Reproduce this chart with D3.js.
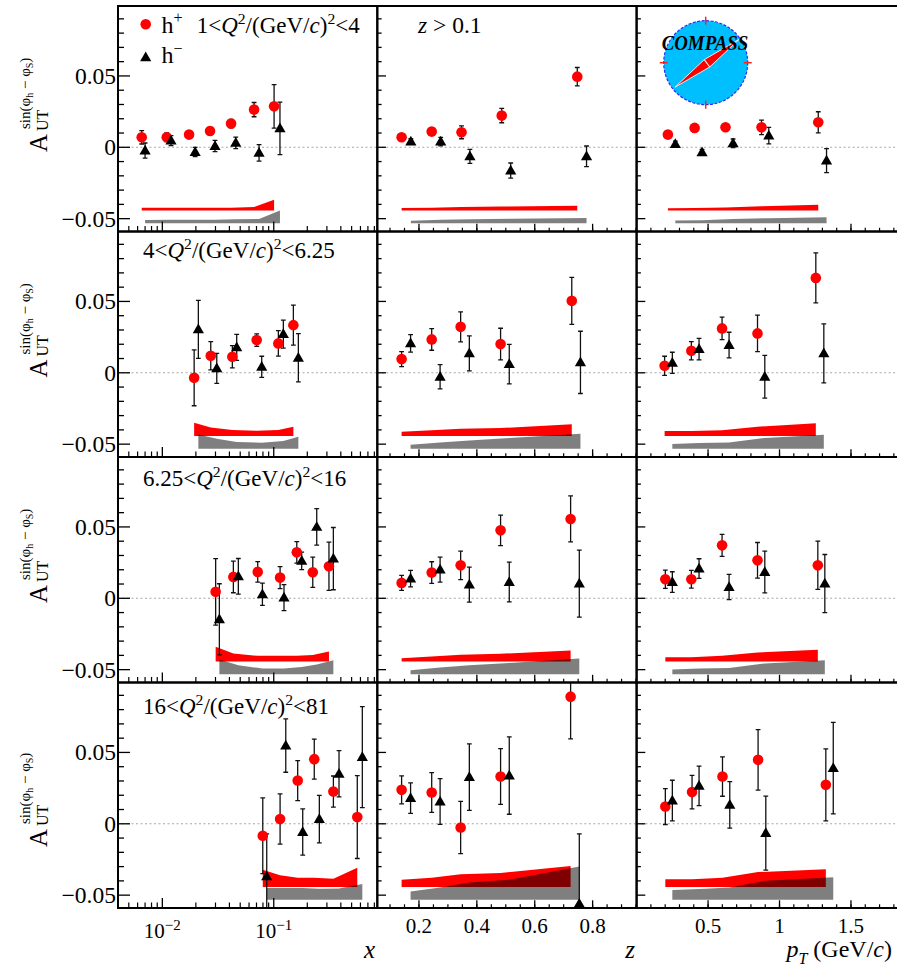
<!DOCTYPE html>
<html>
<head>
<meta charset="utf-8">
<script src="https://cdn.jsdelivr.net/npm/d3@7"></script>
<style>
  body { margin: 0; background: #fff; }
  svg { display: block; }
  text { font-family: "Liberation Serif", "Times New Roman", serif; fill: #000; }
</style>
</head>
<body>
<svg id="chart" width="897" height="970"></svg>
<script>
// ---------------- data ----------------
// Q^2 bin edges, (GeV/c)^2
const Q2_EDGES = ["1", "4", "6.25", "16", "81"];
const Y_TICK_LABELS = [-0.05, 0, 0.05];
const X_TICK_LABELS = [0.01, 0.1];
const Z_TICK_LABELS = [0.2, 0.4, 0.6, 0.8];
const PT_TICK_LABELS = [0.5, 1, 1.5];
// baselines of the systematic-uncertainty bands
const SYS_BASE_POS = -0.0443;
const SYS_BASE_NEG = -0.0532;

// each point: [bin mean, A_UT, stat. error, syst. error]
// 1 < Q^2 < 4
const q1_x_pos = [[0.00653,0.0070,0.0047,0.0020],[0.01095,0.0070,0.0030,0.0020],[0.01738,0.0089,0.0022,0.0020],[0.0268,0.0114,0.0025,0.0020],[0.0414,0.0166,0.0030,0.0020],[0.0666,0.0264,0.0050,0.0025],[0.1007,0.0287,0.0152,0.0075]];
const q1_x_neg = [[0.0070,-0.0023,0.0053,0.0022],[0.01197,0.0047,0.0035,0.0025],[0.0197,-0.0033,0.0033,0.0025],[0.0297,0.0009,0.0040,0.0025],[0.0456,0.0031,0.0040,0.0027],[0.0738,-0.0039,0.0058,0.0030],[0.1137,0.0133,0.0184,0.0089]];
const q1_z_pos = [[0.140,0.0070,0.0020,0.0018],[0.244,0.0110,0.0022,0.0020],[0.347,0.0105,0.0045,0.0024],[0.486,0.0222,0.0050,0.0028],[0.747,0.0495,0.0064,0.0033]];
const q1_z_neg = [[0.172,0.0040,0.0020,0.0018],[0.275,0.0040,0.0030,0.0024],[0.376,-0.0063,0.0049,0.0028],[0.517,-0.0163,0.0053,0.0032],[0.779,-0.0063,0.0072,0.0037]];
const q1_pt_pos = [[0.219,0.0089,0.0020,0.0016],[0.406,0.0136,0.0020,0.0018],[0.622,0.0140,0.0020,0.0022],[0.874,0.0140,0.0051,0.0030],[1.271,0.0175,0.0074,0.0040]];
const q1_pt_neg = [[0.271,0.0023,0.0020,0.0019],[0.458,-0.0035,0.0020,0.0020],[0.675,0.0028,0.0030,0.0030],[0.925,0.0082,0.0058,0.0035],[1.329,-0.0093,0.0084,0.0042]];
// 4 < Q^2 < 6.25
const q2_x_pos = [[0.0193,-0.0035,0.0196,0.0093],[0.0272,0.0119,0.0099,0.0060],[0.0425,0.0112,0.0078,0.0042],[0.0703,0.0229,0.0044,0.0037],[0.110,0.0206,0.0089,0.0042],[0.150,0.0334,0.0140,0.0065]];
const q2_x_neg = [[0.02105,0.0304,0.0203,0.0100],[0.0308,0.0031,0.0105,0.0070],[0.0465,0.0178,0.0091,0.0047],[0.0780,0.0042,0.0074,0.0042],[0.1219,0.0271,0.0098,0.0054],[0.1663,0.0105,0.0169,0.0084]];
const q2_z_pos = [[0.140,0.0096,0.0053,0.0030],[0.244,0.0234,0.0076,0.0040],[0.344,0.0322,0.0105,0.0051],[0.482,0.0201,0.0111,0.0056],[0.728,0.0504,0.0165,0.0082]];
const q2_z_neg = [[0.171,0.0206,0.0061,0.0028],[0.273,-0.0028,0.0085,0.0044],[0.374,0.0136,0.0123,0.0058],[0.512,0.0061,0.0138,0.0075],[0.758,0.0073,0.0218,0.0105]];
const q2_pt_pos = [[0.196,0.0049,0.0067,0.0035],[0.383,0.0154,0.0064,0.0035],[0.598,0.0311,0.0079,0.0040],[0.846,0.0276,0.0128,0.0065],[1.254,0.0665,0.0175,0.0089]];
const q2_pt_neg = [[0.250,0.0070,0.0074,0.0033],[0.437,0.0166,0.0075,0.0040],[0.647,0.0194,0.0090,0.0044],[0.897,-0.0028,0.0150,0.0075],[1.310,0.0136,0.0207,0.0098]];
// 6.25 < Q^2 < 16
const q3_x_pos = [[0.0301,0.0045,0.0233,0.0103],[0.0434,0.0150,0.0111,0.0056],[0.0718,0.0185,0.0072,0.0040],[0.114,0.0145,0.0077,0.0040],[0.161,0.0322,0.0075,0.0040],[0.224,0.0182,0.0106,0.0045],[0.313,0.0224,0.0169,0.0070]];
const q3_x_neg = [[0.0325,-0.0147,0.0249,0.0103],[0.0481,0.0154,0.0125,0.0063],[0.0791,0.0028,0.0078,0.0040],[0.1236,0.0005,0.0091,0.0040],[0.1782,0.0262,0.0061,0.0051],[0.2431,0.0500,0.0128,0.0068],[0.3428,0.0278,0.0218,0.0098]];
const q3_z_pos = [[0.140,0.0108,0.0053,0.0023],[0.244,0.0180,0.0076,0.0035],[0.344,0.0231,0.0100,0.0047],[0.482,0.0476,0.0107,0.0054],[0.724,0.0556,0.0161,0.0077]];
const q3_z_neg = [[0.171,0.0138,0.0058,0.0028],[0.273,0.0201,0.0088,0.0047],[0.374,0.0096,0.0123,0.0063],[0.512,0.0114,0.0139,0.0079],[0.754,0.0103,0.0235,0.0110]];
const q3_pt_pos = [[0.201,0.0133,0.0064,0.0030],[0.383,0.0133,0.0062,0.0030],[0.598,0.0371,0.0077,0.0040],[0.846,0.0266,0.0125,0.0063],[1.268,0.0231,0.0169,0.0082]];
const q3_pt_neg = [[0.250,0.0114,0.0072,0.0033],[0.437,0.0208,0.0069,0.0040],[0.647,0.0079,0.0088,0.0044],[0.897,0.0184,0.0146,0.0075],[1.317,0.0103,0.0204,0.0098]];
// 16 < Q^2 < 81
const q4_x_pos = [[0.0797,-0.0084,0.0265,0.0121],[0.114,0.0033,0.0176,0.0082],[0.164,0.0303,0.0140,0.0065],[0.231,0.0453,0.0140,0.0065],[0.343,0.0226,0.0109,0.0058],[0.562,0.0047,0.0290,0.0135]];
const q4_x_neg = [[0.0865,-0.0369,0.0299,0.0082],[0.1282,0.0548,0.0187,0.0082],[0.182,-0.0058,0.0162,0.0082],[0.2565,0.0033,0.0166,0.0077],[0.3853,0.0350,0.0162,0.0078],[0.6237,0.0467,0.0354,0.0110]];
const q4_z_pos = [[0.140,0.0238,0.0098,0.0051],[0.244,0.0219,0.0139,0.0065],[0.344,-0.0026,0.0183,0.0089],[0.482,0.0331,0.0195,0.0098],[0.724,0.0891,0.0296,0.0147]];
const q4_z_neg = [[0.171,0.0180,0.0107,0.0058],[0.273,0.0156,0.0160,0.0086],[0.374,0.0327,0.0233,0.0121],[0.512,0.0338,0.0271,0.0140],[0.754,-0.0560,0.0490,0.0233]];
const q4_pt_pos = [[0.201,0.0121,0.0126,0.0054],[0.388,0.0222,0.0117,0.0054],[0.601,0.0331,0.0138,0.0065],[0.850,0.0448,0.0212,0.0105],[1.324,0.0273,0.0252,0.0124]];
const q4_pt_neg = [[0.250,0.0163,0.0142,0.0068],[0.437,0.0266,0.0138,0.0075],[0.652,0.0133,0.0163,0.0086],[0.904,-0.0065,0.0259,0.0133],[1.376,0.0390,0.0321,0.0157]];

const panels = [
  [[q1_x_pos, q1_x_neg], [q1_z_pos, q1_z_neg], [q1_pt_pos, q1_pt_neg]],
  [[q2_x_pos, q2_x_neg], [q2_z_pos, q2_z_neg], [q2_pt_pos, q2_pt_neg]],
  [[q3_x_pos, q3_x_neg], [q3_z_pos, q3_z_neg], [q3_pt_pos, q3_pt_neg]],
  [[q4_x_pos, q4_x_neg], [q4_z_pos, q4_z_neg], [q4_pt_pos, q4_pt_neg]]
];

// ---------------- layout ----------------
const COL_L = [118, 377.3, 636.6];
const COL_R = [377.3, 636.6, 899];
const TOP = 6, ROW_H = 225.5;
const Y_DOMAIN = [-0.059, 0.099];
const RED = "#ff0000";

const svg = d3.select("#chart");
const defs = svg.append("defs");

const xScales = [
  d3.scaleLog().domain([0.004, 0.85]).range([COL_L[0], COL_R[0]]),
  d3.scaleLinear().domain([0.056, 0.952]).range([COL_L[1], COL_R[1]]),
  d3.scaleLinear().domain([0, 1.836]).range([COL_L[2], COL_R[2]])
];

// text made of plain / italic / raised / lowered pieces
function richText(parent, x, y, size, segs, anchor) {
  const t = parent.append("text").attr("x", x).attr("y", y)
    .attr("font-size", size).attr("text-anchor", anchor || "start");
  let shift = 0;
  segs.forEach(s => {
    const target = s.sup ? -size * 0.4 : (s.sub ? size * 0.28 : 0);
    const ts = t.append("tspan").attr("dy", target - shift).text(s.t);
    shift = target;
    if (s.i) ts.attr("font-style", "italic");
    if (s.sup || s.sub) ts.attr("font-size", s.fs || size * 0.68);
  });
  return t;
}

function triangle(cx, cy) {
  return `M${cx - 5.6},${cy + 3.9}L${cx + 5.6},${cy + 3.9}L${cx},${cy - 5.8}Z`;
}

function errPath(x, y1, y2) {
  const w = 2.4;
  return `M${x},${y1}V${y2}M${x - w},${y1}H${x + w}M${x - w},${y2}H${x + w}`;
}

for (let r = 0; r < 4; r++) {
  const top = TOP + r * ROW_H, bot = top + ROW_H;
  const y = d3.scaleLinear().domain(Y_DOMAIN).range([bot, top]);

  for (let c = 0; c < 3; c++) {
    const x = xScales[c];
    const [pos, neg] = panels[r][c];
    const L = COL_L[c], R = COL_R[c];
    const id = `clip-${r}-${c}`;
    defs.append("clipPath").attr("id", id)
      .append("rect").attr("x", L).attr("y", top).attr("width", R - L).attr("height", ROW_H);

    const g = svg.append("g");
    const inner = g.append("g").attr("clip-path", `url(#${id})`);

    // systematic bands
    const band = base => d3.area()
      .x(d => x(d[0])).y0(y(base)).y1(d => y(base + d[3]));
    inner.append("path").datum(pos).attr("d", band(SYS_BASE_POS)).attr("fill", RED);
    inner.append("path").datum(neg).attr("d", band(SYS_BASE_NEG))
      .attr("fill", "#000").attr("fill-opacity", 0.5);

    // zero line
    inner.append("line").attr("x1", L).attr("x2", R).attr("y1", y(0)).attr("y2", y(0))
      .attr("stroke", "#a8a8a8").attr("stroke-width", 1.1).attr("stroke-dasharray", "2,2.5");

    // statistical error bars
    [pos, neg].forEach(set => {
      inner.append("g").selectAll("path").data(set).join("path")
        .attr("d", d => errPath(x(d[0]), y(d[1] - d[2]), y(d[1] + d[2])))
        .attr("stroke", "#111").attr("stroke-width", 1.3).attr("fill", "none");
    });

    // markers
    inner.append("g").selectAll("circle").data(pos).join("circle")
      .attr("cx", d => x(d[0])).attr("cy", d => y(d[1])).attr("r", 5.3).attr("fill", RED);
    inner.append("g").selectAll("path").data(neg).join("path")
      .attr("d", d => triangle(x(d[0]), y(d[1]))).attr("fill", "#000");

    // y ticks
    const yLong = c === 0 ? 12 : 8.7, yShort = c === 0 ? 6 : 4.3;
    const yt = [];
    for (let i = -5; i <= 9; i++) yt.push(i);
    g.append("g").selectAll("line").data(yt).join("line")
      .attr("x1", L).attr("x2", i => L + (i % 5 === 0 ? yLong : yShort))
      .attr("y1", i => y(i / 100)).attr("y2", i => y(i / 100))
      .attr("stroke", "#000").attr("stroke-width", 1.3);

    // x ticks
    let major = [], minor = [];
    if (c === 0) {
      major = X_TICK_LABELS;
      [0.001, 0.01, 0.1].forEach(dec => {
        for (let k = 2; k <= 9; k++) {
          const v = k * dec;
          if (v > 0.0041 && v < 0.85) minor.push(v);
        }
      });
    } else if (c === 1) {
      major = Z_TICK_LABELS;
      for (let k = 2; k <= 19; k++) minor.push(k * 0.05);
    } else {
      major = PT_TICK_LABELS;
      for (let k = 1; k <= 18; k++) minor.push(k * 0.1);
    }
    const xLong = c === 0 ? 10 : 7.7, xShort = c === 0 ? 5.5 : 3.7;
    g.append("g").selectAll("line").data(minor).join("line")
      .attr("x1", d => x(d)).attr("x2", d => x(d)).attr("y1", bot).attr("y2", bot - xShort)
      .attr("stroke", "#000").attr("stroke-width", 1.2);
    g.append("g").selectAll("line").data(major).join("line")
      .attr("x1", d => x(d)).attr("x2", d => x(d)).attr("y1", bot).attr("y2", bot - xLong)
      .attr("stroke", "#000").attr("stroke-width", 1.3);

    // frame
    g.append("rect").attr("x", L).attr("y", top).attr("width", R - L).attr("height", ROW_H)
      .attr("fill", "none").attr("stroke", "#000").attr("stroke-width", 2);

    // y tick labels
    if (c === 0) {
      g.append("g").selectAll("text").data(Y_TICK_LABELS).join("text")
        .attr("x", 116).attr("y", d => y(d)).attr("dy", "0.34em")
        .attr("text-anchor", "end").attr("font-size", 23.5)
        .text(d => d === 0 ? "0" : (d < 0 ? "\u2212" : "") + Math.abs(d).toFixed(2));
    }

    // x tick labels on the bottom row
    if (r === 3) {
      if (c === 0) {
        X_TICK_LABELS.forEach(v => {
          richText(g, x(v), 938, 21, [{ t: "10" }, { t: "\u2212" + Math.round(-Math.log10(v)), sup: true, fs: 15 }], "middle");
        });
      } else {
        const labs = c === 1 ? Z_TICK_LABELS : PT_TICK_LABELS;
        g.append("g").selectAll("text").data(labs).join("text")
          .attr("x", d => x(d)).attr("y", 933).attr("text-anchor", "middle").attr("font-size", 21)
          .text(d => String(d));
      }
    }
  }

  // y-axis title for this row
  const tBottom = r < 3 ? top + 146 : 847;
  const tg = svg.append("g").attr("transform", `translate(47,${tBottom}) rotate(-90)`);
  tg.append("text").attr("x", 0).attr("y", 0).attr("font-size", 25).text("A");
  tg.append("text").attr("x", 21).attr("y", 1).attr("font-size", 16).text("UT");
  const sup = tg.append("text").attr("x", 23).attr("y", -17).attr("font-size", 15);
  sup.append("tspan").text("sin(\u03c6");
  sup.append("tspan").attr("dy", 3).attr("font-size", 10).text("h");
  sup.append("tspan").attr("dy", -3).text(" \u2212 \u03c6");
  sup.append("tspan").attr("dy", 3).attr("font-size", 10).text("S");
  sup.append("tspan").attr("dy", -3).text(")");

  // Q^2 range label
  const labelX = r === 0 ? 196.7 : 143;
  const labelY = [32.7, 258.3, 485.7, 714.3][r];
  richText(svg, labelX, labelY, 23, [
    { t: Q2_EDGES[r] + "<" }, { t: "Q", i: true }, { t: "2", sup: true },
    { t: "/(GeV/" }, { t: "c", i: true }, { t: ")" }, { t: "2", sup: true },
    { t: "<" + Q2_EDGES[r + 1] }
  ]);
}

// legend
svg.append("circle").attr("cx", 145.7).attr("cy", 24.3).attr("r", 5.3).attr("fill", RED);
svg.append("path").attr("d", triangle(145.7, 57.3)).attr("fill", "#000");
richText(svg, 161.5, 32.7, 24, [{ t: "h" }, { t: "+", sup: true, fs: 16 }]);
richText(svg, 161.5, 63.3, 24, [{ t: "h" }, { t: "\u2212", sup: true, fs: 16 }]);

// cut label
richText(svg, 418, 32.5, 23.5, [{ t: "z", i: true }, { t: " > 0.1" }]);

// axis titles
richText(svg, 375, 958, 25, [{ t: "x", i: true }], "end");
richText(svg, 635, 958, 25, [{ t: "z", i: true }], "end");
richText(svg, 892, 957, 24, [{ t: "p", i: true }, { t: "T", i: true, sub: true, fs: 16 }, { t: " (GeV/" }, { t: "c", i: true }, { t: ")" }], "end");

// experiment logo
const logo = svg.append("g").attr("transform", "translate(705.7,62.7)");
logo.append("circle").attr("r", 42).attr("fill", "#00bfff")
  .attr("stroke", "#2b2bff").attr("stroke-width", 1.2).attr("stroke-dasharray", "3,1.5");
[[0, -1], [0, 1], [-1, 0], [1, 0]].forEach(([dx, dy]) => {
  logo.append("line").attr("x1", dx * 38).attr("y1", dy * 38).attr("x2", dx * 46).attr("y2", dy * 46)
    .attr("stroke", "#ff2020").attr("stroke-width", 1.5);
});
const needle = logo.append("g").attr("transform", "translate(1.3,0.6) rotate(-36.7)");
needle.append("path").attr("d", "M-40,0L0,-4.6L40,0L0,4.6Z")
  .attr("fill", "#ff0000").attr("stroke", "#ffffff").attr("stroke-width", 0.8);
needle.append("line").attr("x1", 0).attr("x2", 0).attr("y1", -4.6).attr("y2", 4.6)
  .attr("stroke", "#ffffff").attr("stroke-width", 1);
svg.append("text").attr("x", 661.7).attr("y", 50).attr("font-size", 22)
  .attr("font-weight", "bold").attr("font-style", "italic")
  .attr("textLength", 86.6).attr("lengthAdjust", "spacingAndGlyphs").text("COMPASS");
</script>
</body>
</html>
